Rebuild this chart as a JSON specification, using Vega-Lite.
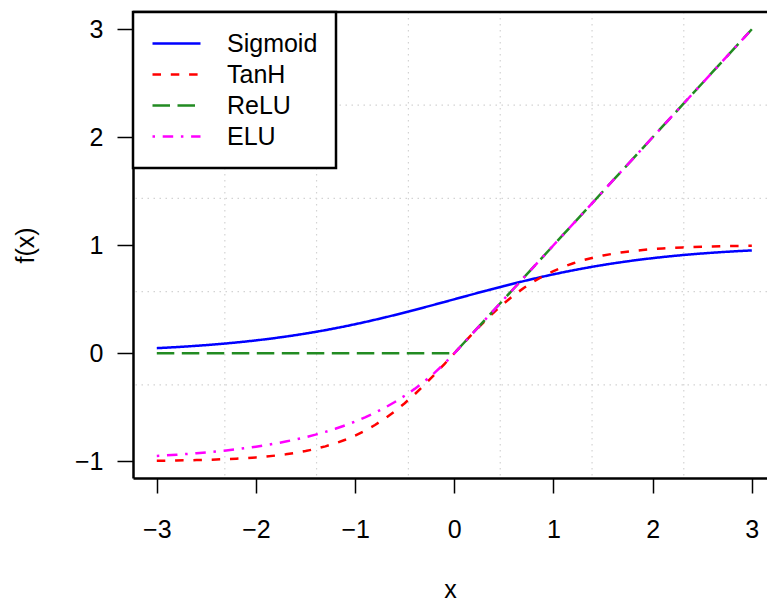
{
  "$schema": "https://vega.github.io/schema/vega-lite/v6.json",
  "width": 634,
  "height": 466,
  "autosize": {"type": "none"},
  "padding": {"left": 133, "top": 12, "right": 0, "bottom": 121},
  "background": "white",
  "config": {"view": {"stroke": null}, "font": "Liberation Sans", "legend": {"strokeWidth": 2.5}},
  "layer": [
    {
      "data": {"values": [{"x": -2.314}, {"x": -1.389}, {"x": -0.463}, {"x": 0.463}, {"x": 1.389}, {"x": 2.314}]},
      "mark": {"type": "rule", "color": "#D3D3D3", "strokeWidth": 1.2, "strokeDash": [1.5, 4.5]},
      "encoding": {
        "x": {"field": "x", "type": "quantitative", "title": "x", "scale": {"domain": [-3.24, 3.153], "nice": false, "zero": false}}
      }
    },
    {
      "data": {"values": [{"y": -0.292}, {"y": 0.571}, {"y": 1.434}, {"y": 2.297}]},
      "mark": {"type": "rule", "color": "#D3D3D3", "strokeWidth": 1.2, "strokeDash": [1.5, 4.5]},
      "encoding": {
        "y": {"field": "y", "type": "quantitative", "title": "f(x)", "scale": {"domain": [-1.1548, 3.1598], "nice": false, "zero": false}}
      }
    },
    {
      "data": {"values": [{"y": 3.1598}]},
      "mark": {"type": "rule", "color": "black", "strokeWidth": 2.5},
      "encoding": {
        "y": {"field": "y", "type": "quantitative", "title": "f(x)", "scale": {"domain": [-1.1548, 3.1598], "nice": false, "zero": false}}
      }
    },
    {
      "data": {"values": [
        {"x": -3.0, "Sigmoid": 0.04743, "TanH": -0.99505, "ReLU": 0, "ELU": -0.95021},
        {"x": -2.9, "Sigmoid": 0.05215, "TanH": -0.99396, "ReLU": 0, "ELU": -0.94498},
        {"x": -2.8, "Sigmoid": 0.05732, "TanH": -0.99263, "ReLU": 0, "ELU": -0.93919},
        {"x": -2.7, "Sigmoid": 0.06297, "TanH": -0.99101, "ReLU": 0, "ELU": -0.93279},
        {"x": -2.6, "Sigmoid": 0.06914, "TanH": -0.98903, "ReLU": 0, "ELU": -0.92573},
        {"x": -2.5, "Sigmoid": 0.07586, "TanH": -0.98661, "ReLU": 0, "ELU": -0.91792},
        {"x": -2.4, "Sigmoid": 0.08317, "TanH": -0.98367, "ReLU": 0, "ELU": -0.90928},
        {"x": -2.3, "Sigmoid": 0.09112, "TanH": -0.98010, "ReLU": 0, "ELU": -0.89974},
        {"x": -2.2, "Sigmoid": 0.09975, "TanH": -0.97574, "ReLU": 0, "ELU": -0.88920},
        {"x": -2.1, "Sigmoid": 0.10910, "TanH": -0.97045, "ReLU": 0, "ELU": -0.87754},
        {"x": -2.0, "Sigmoid": 0.11920, "TanH": -0.96403, "ReLU": 0, "ELU": -0.86466},
        {"x": -1.9, "Sigmoid": 0.13011, "TanH": -0.95624, "ReLU": 0, "ELU": -0.85043},
        {"x": -1.8, "Sigmoid": 0.14185, "TanH": -0.94681, "ReLU": 0, "ELU": -0.83470},
        {"x": -1.7, "Sigmoid": 0.15447, "TanH": -0.93541, "ReLU": 0, "ELU": -0.81732},
        {"x": -1.6, "Sigmoid": 0.16798, "TanH": -0.92167, "ReLU": 0, "ELU": -0.79810},
        {"x": -1.5, "Sigmoid": 0.18243, "TanH": -0.90515, "ReLU": 0, "ELU": -0.77687},
        {"x": -1.4, "Sigmoid": 0.19782, "TanH": -0.88535, "ReLU": 0, "ELU": -0.75340},
        {"x": -1.3, "Sigmoid": 0.21416, "TanH": -0.86172, "ReLU": 0, "ELU": -0.72747},
        {"x": -1.2, "Sigmoid": 0.23148, "TanH": -0.83365, "ReLU": 0, "ELU": -0.69881},
        {"x": -1.1, "Sigmoid": 0.24974, "TanH": -0.80050, "ReLU": 0, "ELU": -0.66713},
        {"x": -1.0, "Sigmoid": 0.26894, "TanH": -0.76159, "ReLU": 0, "ELU": -0.63212},
        {"x": -0.9, "Sigmoid": 0.28905, "TanH": -0.71630, "ReLU": 0, "ELU": -0.59343},
        {"x": -0.8, "Sigmoid": 0.31003, "TanH": -0.66404, "ReLU": 0, "ELU": -0.55067},
        {"x": -0.7, "Sigmoid": 0.33181, "TanH": -0.60437, "ReLU": 0, "ELU": -0.50341},
        {"x": -0.6, "Sigmoid": 0.35434, "TanH": -0.53705, "ReLU": 0, "ELU": -0.45119},
        {"x": -0.5, "Sigmoid": 0.37754, "TanH": -0.46212, "ReLU": 0, "ELU": -0.39347},
        {"x": -0.4, "Sigmoid": 0.40131, "TanH": -0.37995, "ReLU": 0, "ELU": -0.32968},
        {"x": -0.3, "Sigmoid": 0.42556, "TanH": -0.29131, "ReLU": 0, "ELU": -0.25918},
        {"x": -0.2, "Sigmoid": 0.45017, "TanH": -0.19738, "ReLU": 0, "ELU": -0.18127},
        {"x": -0.1, "Sigmoid": 0.47502, "TanH": -0.09967, "ReLU": 0, "ELU": -0.09516},
        {"x": 0.0, "Sigmoid": 0.5, "TanH": 0, "ReLU": 0, "ELU": 0},
        {"x": 0.1, "Sigmoid": 0.52498, "TanH": 0.09967, "ReLU": 0.1, "ELU": 0.1},
        {"x": 0.2, "Sigmoid": 0.54983, "TanH": 0.19738, "ReLU": 0.2, "ELU": 0.2},
        {"x": 0.3, "Sigmoid": 0.57444, "TanH": 0.29131, "ReLU": 0.3, "ELU": 0.3},
        {"x": 0.4, "Sigmoid": 0.59869, "TanH": 0.37995, "ReLU": 0.4, "ELU": 0.4},
        {"x": 0.5, "Sigmoid": 0.62246, "TanH": 0.46212, "ReLU": 0.5, "ELU": 0.5},
        {"x": 0.6, "Sigmoid": 0.64566, "TanH": 0.53705, "ReLU": 0.6, "ELU": 0.6},
        {"x": 0.7, "Sigmoid": 0.66819, "TanH": 0.60437, "ReLU": 0.7, "ELU": 0.7},
        {"x": 0.8, "Sigmoid": 0.68997, "TanH": 0.66404, "ReLU": 0.8, "ELU": 0.8},
        {"x": 0.9, "Sigmoid": 0.71095, "TanH": 0.71630, "ReLU": 0.9, "ELU": 0.9},
        {"x": 1.0, "Sigmoid": 0.73106, "TanH": 0.76159, "ReLU": 1.0, "ELU": 1.0},
        {"x": 1.1, "Sigmoid": 0.75026, "TanH": 0.80050, "ReLU": 1.1, "ELU": 1.1},
        {"x": 1.2, "Sigmoid": 0.76852, "TanH": 0.83365, "ReLU": 1.2, "ELU": 1.2},
        {"x": 1.3, "Sigmoid": 0.78584, "TanH": 0.86172, "ReLU": 1.3, "ELU": 1.3},
        {"x": 1.4, "Sigmoid": 0.80218, "TanH": 0.88535, "ReLU": 1.4, "ELU": 1.4},
        {"x": 1.5, "Sigmoid": 0.81757, "TanH": 0.90515, "ReLU": 1.5, "ELU": 1.5},
        {"x": 1.6, "Sigmoid": 0.83202, "TanH": 0.92167, "ReLU": 1.6, "ELU": 1.6},
        {"x": 1.7, "Sigmoid": 0.84553, "TanH": 0.93541, "ReLU": 1.7, "ELU": 1.7},
        {"x": 1.8, "Sigmoid": 0.85815, "TanH": 0.94681, "ReLU": 1.8, "ELU": 1.8},
        {"x": 1.9, "Sigmoid": 0.86989, "TanH": 0.95624, "ReLU": 1.9, "ELU": 1.9},
        {"x": 2.0, "Sigmoid": 0.88080, "TanH": 0.96403, "ReLU": 2.0, "ELU": 2.0},
        {"x": 2.1, "Sigmoid": 0.89090, "TanH": 0.97045, "ReLU": 2.1, "ELU": 2.1},
        {"x": 2.2, "Sigmoid": 0.90025, "TanH": 0.97574, "ReLU": 2.2, "ELU": 2.2},
        {"x": 2.3, "Sigmoid": 0.90888, "TanH": 0.98010, "ReLU": 2.3, "ELU": 2.3},
        {"x": 2.4, "Sigmoid": 0.91683, "TanH": 0.98367, "ReLU": 2.4, "ELU": 2.4},
        {"x": 2.5, "Sigmoid": 0.92414, "TanH": 0.98661, "ReLU": 2.5, "ELU": 2.5},
        {"x": 2.6, "Sigmoid": 0.93086, "TanH": 0.98903, "ReLU": 2.6, "ELU": 2.6},
        {"x": 2.7, "Sigmoid": 0.93703, "TanH": 0.99101, "ReLU": 2.7, "ELU": 2.7},
        {"x": 2.8, "Sigmoid": 0.94268, "TanH": 0.99263, "ReLU": 2.8, "ELU": 2.8},
        {"x": 2.9, "Sigmoid": 0.94785, "TanH": 0.99396, "ReLU": 2.9, "ELU": 2.9},
        {"x": 3.0, "Sigmoid": 0.95257, "TanH": 0.99505, "ReLU": 3.0, "ELU": 3.0}
      ]},
      "transform": [{"fold": ["Sigmoid", "TanH", "ReLU", "ELU"], "as": ["fn", "y"]}],
      "mark": {"type": "line", "strokeWidth": 2.5, "strokeCap": "butt"},
      "encoding": {
        "x": {
          "field": "x", "type": "quantitative", "title": "x",
          "scale": {"domain": [-3.24, 3.153], "nice": false, "zero": false},
          "axis": {"values": [-3, -2, -1, 0, 1, 2, 3], "format": "d", "grid": false, "domainColor": "black", "domainWidth": 2.5,
                   "tickColor": "black", "tickWidth": 1.5, "tickSize": 15, "labelFontSize": 25, "labelColor": "black",
                   "labelPadding": 24, "labelFlush": false, "labelOverlap": false,
                   "titleFontSize": 25, "titleFontWeight": "normal", "titleColor": "black", "titlePadding": 35}
        },
        "y": {
          "field": "y", "type": "quantitative", "title": "f(x)",
          "scale": {"domain": [-1.1548, 3.1598], "nice": false, "zero": false},
          "axis": {"values": [-1, 0, 1, 2, 3], "format": "d", "grid": false, "domainColor": "black", "domainWidth": 2.5,
                   "tickColor": "black", "tickWidth": 1.5, "tickSize": 16, "labelFontSize": 25, "labelColor": "black",
                   "labelPadding": 14, "labelFlush": false, "labelOverlap": false,
                   "titleFontSize": 25, "titleFontWeight": "normal", "titleColor": "black", "titlePadding": 36}
        },
        "color": {
          "field": "fn", "type": "nominal",
          "scale": {"domain": ["Sigmoid", "TanH", "ReLU", "ELU"], "range": ["#0000FF", "#FF0000", "#228B22", "#FF00FF"]},
          "legend": {"orient": "none", "legendX": 0, "legendY": 0, "title": null, "fillColor": "white", "strokeColor": "black",
                     "padding": 18, "labelFontSize": 25, "labelColor": "black", "symbolType": "M-1,0H3", "symbolSize": 576,
                     "symbolStrokeWidth": 2.5, "labelOffset": 49, "rowPadding": 4}
        },
        "strokeDash": {
          "field": "fn", "type": "nominal",
          "scale": {"domain": ["Sigmoid", "TanH", "ReLU", "ELU"], "range": [[1, 0], [8.5, 9.8], [17.5, 7.5], [2.5, 7.7, 10.5, 7.7]]},
          "legend": {"orient": "none", "legendX": 0, "legendY": 0, "title": null, "fillColor": "white", "strokeColor": "black",
                     "padding": 18, "labelFontSize": 25, "labelColor": "black", "symbolType": "M-1,0H3", "symbolSize": 576,
                     "symbolStrokeWidth": 2.5, "labelOffset": 49, "rowPadding": 4}
        }
      }
    }
  ]
}
